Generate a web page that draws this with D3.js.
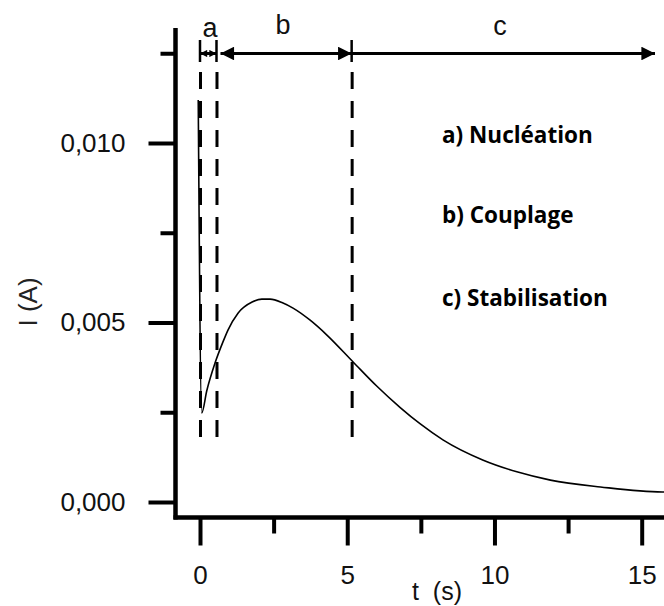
<!DOCTYPE html>
<html>
<head>
<meta charset="utf-8">
<script src="https://cdn.jsdelivr.net/npm/d3@7"></script>
<style>
  html, body { margin: 0; padding: 0; background: #fff; }
  svg { display: block; }
</style>
</head>
<body>
<svg id="chart" width="664" height="606"></svg>
<script>
// ---- data ----
const timeValues = [-0.06, 0.058, 0.23, 0.51, 0.78, 0.95, 1.29, 1.77, 2.1, 2.38, 2.8, 3.16, 3.73, 4.31, 5.2, 6.0, 6.8, 7.47, 8.25, 9.6, 10.76, 11.9, 13.6, 15.7, 15.76];
const currentValues = [0.0112, 0.00248, 0.0031, 0.00387, 0.00446, 0.00479, 0.00526, 0.00557, 0.00565, 0.00565, 0.00555, 0.0054, 0.00507, 0.00465, 0.0039, 0.00323, 0.00263, 0.00218, 0.00173, 0.00117, 0.00084, 0.00061, 0.00042, 0.00028, 0.00028];
const xTickValues = [0, 5, 10, 15];
const xMinorTicks = [2.5, 7.5, 12.5];
const yTickValues = [0, 0.005, 0.010];
const yMinorTicks = [0.0025, 0.0075, 0.0125];
const phaseLabels = ['a', 'b', 'c'];
const phaseBounds = [0, 0.56, 5.15, 15.5];
const legendTexts = ['a) Nucléation', 'b) Couplage', 'c) Stabilisation'];
const xLabel = 't  (s)';
const yLabel = 'I (A)';

// ---- scales ----
const svg = d3.select('#chart');
const x = d3.scaleLinear().domain([0, 15]).range([200, 641.7]);
const y = d3.scaleLinear().domain([0, 0.010]).range([502, 143]);
const axisX0 = 175.5, axisY0 = 517.5;
const fontAxis = '"Liberation Sans", Arial, sans-serif';

// axis lines
svg.append('line').attr('x1', axisX0).attr('x2', axisX0)
  .attr('y1', 28).attr('y2', axisY0 + 2).attr('stroke', '#000').attr('stroke-width', 4.5);
svg.append('line').attr('x1', axisX0 - 2).attr('x2', 664)
  .attr('y1', axisY0).attr('y2', axisY0).attr('stroke', '#000').attr('stroke-width', 4.5);

// y axis
const fmt = d => d3.format('.3f')(d).replace('.', ',');
const gy = svg.append('g').attr('transform', `translate(${axisX0},0)`)
  .call(d3.axisLeft(y).tickValues(yTickValues).tickSize(27).tickPadding(23).tickFormat(fmt));
gy.select('.domain').remove();
gy.selectAll('.tick line').attr('stroke', '#000').attr('stroke-width', 4);
gy.selectAll('.tick text').attr('font-family', fontAxis).attr('font-size', 26).attr('fill', '#111');
const gym = svg.append('g').attr('transform', `translate(${axisX0},0)`)
  .call(d3.axisLeft(y).tickValues(yMinorTicks).tickSize(15).tickFormat(''));
gym.select('.domain').remove();
gym.selectAll('.tick line').attr('stroke', '#000').attr('stroke-width', 4);

// x axis
const gx = svg.append('g').attr('transform', `translate(0,${axisY0})`)
  .call(d3.axisBottom(x).tickValues(xTickValues).tickSize(28).tickPadding(20).tickFormat(d3.format('d')));
gx.select('.domain').remove();
gx.selectAll('.tick line').attr('stroke', '#000').attr('stroke-width', 4);
gx.selectAll('.tick text').attr('font-family', fontAxis).attr('font-size', 26).attr('fill', '#111');
const gxm = svg.append('g').attr('transform', `translate(0,${axisY0})`)
  .call(d3.axisBottom(x).tickValues(xMinorTicks).tickSize(16).tickFormat(''));
gxm.select('.domain').remove();
gxm.selectAll('.tick line').attr('stroke', '#000').attr('stroke-width', 4);

// axis titles
svg.append('text').attr('x', 412).attr('y', 600).attr('font-family', fontAxis)
  .attr('font-size', 25).attr('fill', '#111').style('white-space', 'pre').text(xLabel);
svg.append('text').attr('transform', 'translate(37,302) rotate(-90)').attr('text-anchor', 'middle')
  .attr('font-family', fontAxis).attr('font-size', 26).attr('fill', '#222').text(yLabel);

// dashed phase boundaries
svg.append('g').selectAll('line').data(phaseBounds.slice(0, 3)).join('line')
  .attr('x1', d => x(d) + 0.5).attr('x2', d => x(d) + 0.5)
  .attr('y1', 72).attr('y2', 443)
  .attr('stroke', '#000').attr('stroke-width', 3).attr('stroke-dasharray', '17,12');

// curve
const line = d3.line().x((d, i) => x(timeValues[i])).y(d => y(d)).curve(d3.curveMonotoneX);
svg.append('path').datum(currentValues).attr('d', line)
  .attr('fill', 'none').attr('stroke', '#000').attr('stroke-width', 1.6);

// arrows on top
const arrowY = 53.5;
const defs = svg.append('defs');
function marker(id, size) {
  defs.append('marker').attr('id', id).attr('viewBox', '0 0 10 10')
    .attr('refX', 10).attr('refY', 5).attr('markerUnits', 'userSpaceOnUse')
    .attr('markerWidth', size).attr('markerHeight', size * 0.8).attr('orient', 'auto-start-reverse')
    .append('path').attr('d', 'M0,0 L10,5 L0,10 Z').attr('fill', '#000');
}
marker('arrSmall', 9);
marker('arrBig', 17);
const segEnds = [x(phaseBounds[0]), x(phaseBounds[1]), x(phaseBounds[2]), 655];
svg.append('line').attr('x1', segEnds[0]).attr('x2', segEnds[1]).attr('y1', arrowY).attr('y2', arrowY)
  .attr('stroke', '#000').attr('stroke-width', 3)
  .attr('marker-start', 'url(#arrSmall)').attr('marker-end', 'url(#arrSmall)');
svg.append('line').attr('x1', segEnds[1] + 4).attr('x2', segEnds[2]).attr('y1', arrowY).attr('y2', arrowY)
  .attr('stroke', '#000').attr('stroke-width', 3)
  .attr('marker-start', 'url(#arrBig)').attr('marker-end', 'url(#arrBig)');
svg.append('line').attr('x1', segEnds[2]).attr('x2', segEnds[3]).attr('y1', arrowY).attr('y2', arrowY)
  .attr('stroke', '#000').attr('stroke-width', 3)
  .attr('marker-end', 'url(#arrBig)');
svg.append('g').selectAll('line').data(phaseBounds.slice(0, 3)).join('line')
  .attr('x1', d => x(d)).attr('x2', d => x(d)).attr('y1', 40).attr('y2', 62)
  .attr('stroke', '#000').attr('stroke-width', 2.5);

// phase labels
const labelX = [210, 283, 500];
const labelY = [37, 34, 35];
svg.append('g').selectAll('text').data(phaseLabels).join('text')
  .attr('x', (d, i) => labelX[i]).attr('y', (d, i) => labelY[i])
  .attr('text-anchor', 'middle').attr('font-family', fontAxis).attr('font-size', 27)
  .attr('fill', '#111').text(d => d);

// legend texts
const legendY = [143, 223, 306];
svg.append('g').selectAll('text').data(legendTexts).join('text')
  .attr('x', 442).attr('y', (d, i) => legendY[i])
  .attr('font-family', '"Open Sans", "Noto Sans", sans-serif').attr('font-weight', 'bold')
  .attr('font-size', 22.5).attr('fill', '#000').text(d => d);
</script>
</body>
</html>
